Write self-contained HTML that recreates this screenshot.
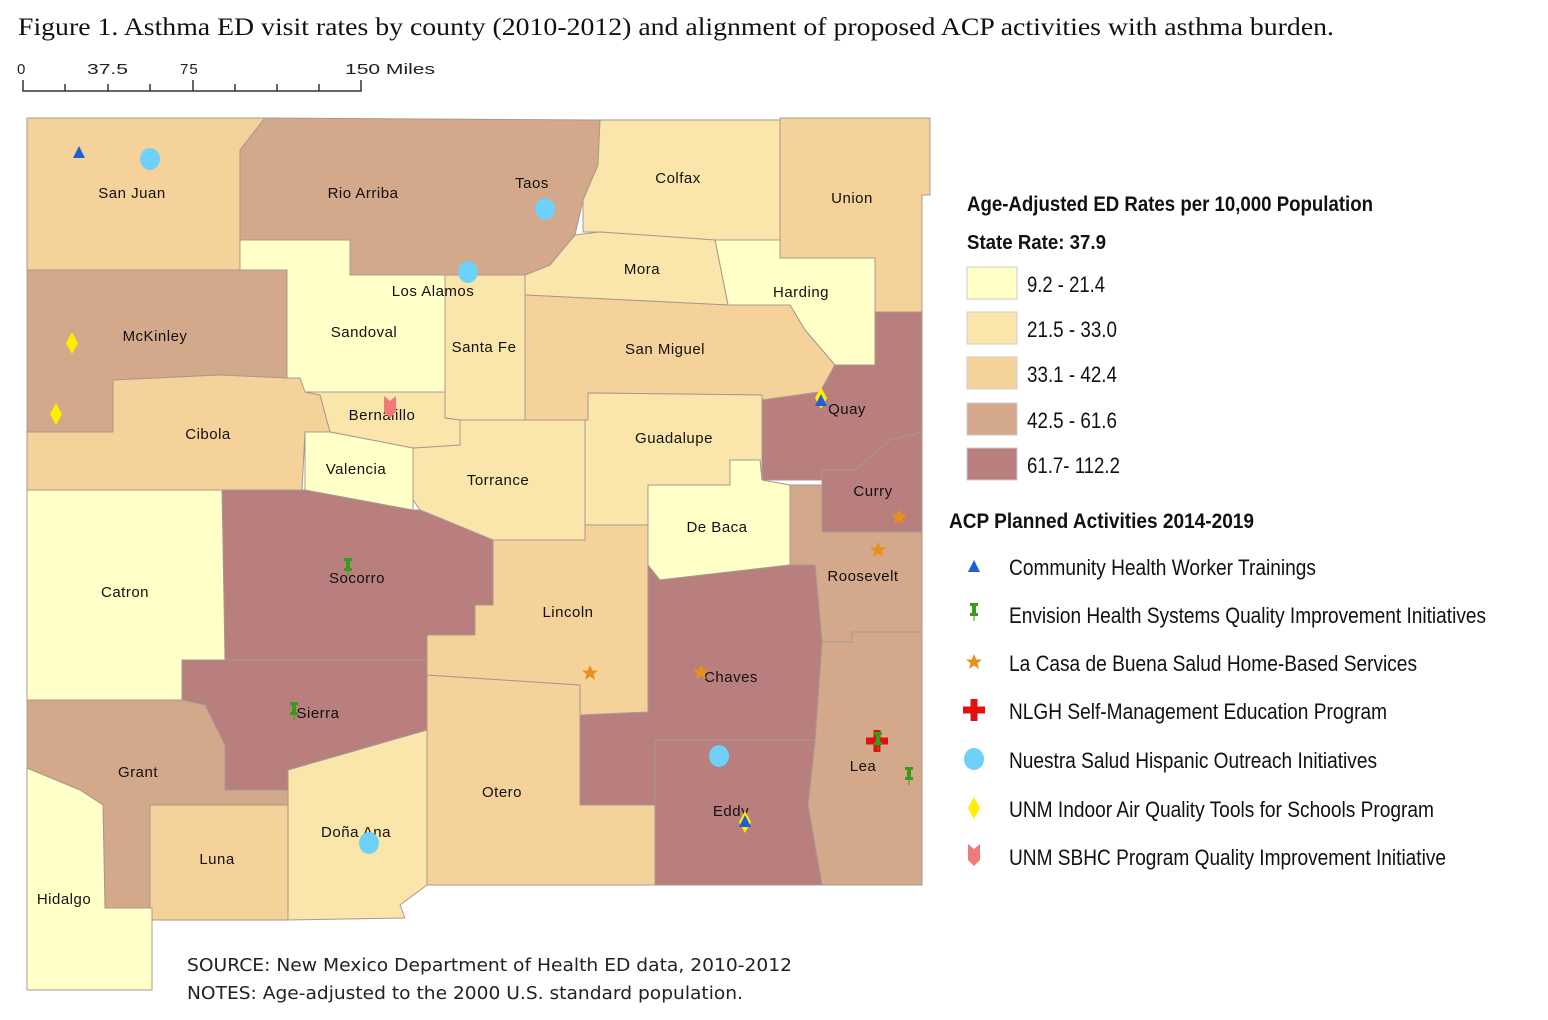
<!DOCTYPE html>
<html><head><meta charset="utf-8"><style>
html,body{margin:0;padding:0;background:#fff;}
svg{display:block}
</style></head><body>
<svg width="1548" height="1020" viewBox="0 0 1548 1020" xmlns="http://www.w3.org/2000/svg">
<defs>
<g id="tri"><polygon points="0,-7 6,5 -6,5" fill="#1f5fd6"/></g>
<g id="pin"><rect x="-4" y="-8" width="8" height="3" fill="#3a9a1a"/><rect x="-2" y="-6" width="4" height="9" fill="#3a9a1a"/><rect x="-4" y="2" width="8" height="3" fill="#3a9a1a"/><line x1="0" y1="5" x2="0" y2="10" stroke="#3a9a1a" stroke-width="1"/></g>
<g id="star"><polygon points="0,-8 2.3,-2.5 8,-2.5 3.5,1.2 5,7 0,3.5 -5,7 -3.5,1.2 -8,-2.5 -2.3,-2.5" fill="#e8901a"/></g>
<g id="cross"><rect x="-3.5" y="-11" width="7" height="22" fill="#e01010"/><rect x="-11" y="-3.5" width="22" height="7" fill="#e01010"/></g>
<g id="circ"><ellipse cx="0" cy="0" rx="10" ry="11" fill="#6fd0f8"/></g>
<g id="dia"><polygon points="0,-11 6,0 0,11 -6,0" fill="#ffee00"/></g>
<g id="flag"><polygon points="-6,-11 0,-6 6,-11 6,5 0,11 -6,5" fill="#f07a7a"/></g>
</defs>
<text x="18" y="35" font-family="Liberation Serif, serif" font-size="25" fill="#111" textLength="1316" lengthAdjust="spacingAndGlyphs">Figure 1. Asthma ED visit rates by county (2010-2012) and alignment of proposed ACP activities with asthma burden.</text>
<g font-family="Liberation Sans, sans-serif" font-size="15" fill="#222">
<text x="17" y="74">0</text><text x="87" y="74" textLength="41" lengthAdjust="spacingAndGlyphs">37.5</text><text x="180" y="74" letter-spacing="1">75</text><text x="345" y="74" textLength="90" lengthAdjust="spacingAndGlyphs">150 Miles</text>
</g>
<g stroke="#333" stroke-width="1.5" fill="none">
<path d="M23,80 V91 H361 V80 M65,84V91 M108,84V91 M150,84V91 M193,80V91 M235,84V91 M277,84V91 M319,84V91"/>
</g>
<g stroke="#a89890" stroke-width="1" stroke-linejoin="round">
<polygon fill="#f5d29a" points="27,118 265,118 240,150 240,270 27,270"/>
<polygon fill="#d4a88a" points="265,118 600,120 598,165 583,200 575,235 550,265 525,275 350,275 350,240 240,240 240,150"/>
<polygon fill="#fae6aa" points="600,120 780,120 780,240 715,240 600,232 583,232 583,200 598,165"/>
<polygon fill="#f5d29a" points="780,118 930,118 930,195 922,195 922,312 875,312 875,258 780,258 780,240"/>
<polygon fill="#ffffc8" points="715,240 780,240 780,258 875,258 875,365 835,365 805,330 790,305 728,305"/>
<polygon fill="#fae6aa" points="575,235 600,232 715,240 728,305 525,295 525,275 550,265"/>
<polygon fill="#f5d29a" points="525,295 728,305 790,305 805,330 835,365 820,392 762,400 762,395 588,393 588,420 525,420"/>
<polygon fill="#b97f7e" points="875,312 922,312 922,432 890,440 855,470 822,470 822,480 762,480 762,400 820,392 835,365 875,365"/>
<polygon fill="#b97f7e" points="922,432 922,532 822,532 822,480 822,470 855,470 890,440"/>
<polygon fill="#fae6aa" points="588,393 762,395 762,480 760,460 730,460 730,485 648,485 648,525 585,525 585,420 588,420"/>
<polygon fill="#ffffc8" points="648,485 730,485 730,460 760,460 762,480 790,485 790,565 660,580 648,580"/>
<polygon fill="#d4a88a" points="790,485 822,485 822,532 922,532 922,632 852,632 852,642 822,642 815,565 790,565"/>
<polygon fill="#d4a88a" points="822,642 852,642 852,632 922,632 922,885 822,885 808,805 815,740"/>
<polygon fill="#b97f7e" points="648,565 660,580 790,565 815,565 822,642 815,740 655,740 655,805 580,805 580,715 648,712"/>
<polygon fill="#b97f7e" points="655,740 815,740 808,805 822,885 655,885"/>
<polygon fill="#f5d29a" points="427,675 580,685 580,805 655,805 655,885 427,885"/>
<polygon fill="#f5d29a" points="493,540 585,540 585,525 648,525 648,712 580,715 580,685 427,675 427,635 475,635 475,605 493,605"/>
<polygon fill="#fae6aa" points="413,448 460,445 460,420 585,420 585,540 493,540 420,510 413,500"/>
<polygon fill="#b97f7e" points="222,490 305,490 413,510 420,510 493,540 493,605 475,605 475,635 427,635 427,660 222,660"/>
<polygon fill="#ffffc8" points="27,490 222,490 225,660 182,665 182,700 27,700"/>
<polygon fill="#b97f7e" points="182,660 427,660 427,730 288,770 288,790 225,790 225,745 205,705 182,700"/>
<polygon fill="#fae6aa" points="288,770 427,730 427,885 400,905 405,918 288,920"/>
<polygon fill="#f5d29a" points="150,805 288,805 288,920 150,920"/>
<polygon fill="#d4a88a" points="27,700 182,700 205,705 225,745 225,790 288,790 288,805 150,805 150,908 105,908 103,805 80,790 27,768"/>
<polygon fill="#ffffc8" points="27,768 80,790 103,805 105,908 152,908 152,990 27,990"/>
<polygon fill="#d4a88a" points="27,270 287,270 287,378 240,378 220,375 113,380 113,432 27,432"/>
<polygon fill="#f5d29a" points="27,432 113,432 113,380 220,375 287,378 300,378 320,395 330,432 305,432 302,490 27,490"/>
<polygon fill="#ffffc8" points="240,240 350,240 350,275 445,275 445,392 305,392 300,378 287,378 287,270 240,270"/>
<polygon fill="#fae6aa" points="445,275 525,275 525,420 460,420 445,418"/>
<polygon fill="#fae6aa" points="305,392 445,392 445,418 460,420 460,445 413,448 330,432 320,395"/>
<polygon fill="#ffffc8" points="305,432 330,432 413,448 413,510 305,490"/>
</g>
<g font-family="Liberation Sans, sans-serif" font-size="15" fill="#111" text-anchor="middle" letter-spacing="0.5">
<text x="132" y="198">San Juan</text><text x="363" y="198">Rio Arriba</text><text x="532" y="188">Taos</text>
<text x="678" y="183">Colfax</text><text x="852" y="203">Union</text><text x="642" y="274">Mora</text>
<text x="801" y="297">Harding</text><text x="433" y="296">Los Alamos</text><text x="155" y="341">McKinley</text>
<text x="364" y="337">Sandoval</text><text x="484" y="352">Santa Fe</text><text x="665" y="354">San Miguel</text>
<text x="847" y="414">Quay</text><text x="382" y="420">Bernalillo</text><text x="208" y="439">Cibola</text>
<text x="674" y="443">Guadalupe</text><text x="356" y="474">Valencia</text><text x="498" y="485">Torrance</text>
<text x="873" y="496">Curry</text><text x="717" y="532">De Baca</text><text x="357" y="583">Socorro</text>
<text x="863" y="581">Roosevelt</text><text x="125" y="597">Catron</text><text x="568" y="617">Lincoln</text>
<text x="731" y="682">Chaves</text><text x="318" y="718">Sierra</text><text x="863" y="771">Lea</text>
<text x="138" y="777">Grant</text><text x="502" y="797">Otero</text><text x="731" y="816">Eddy</text>
<text x="356" y="837">Doña Ana</text><text x="217" y="864">Luna</text><text x="64" y="904">Hidalgo</text>
</g>
<use href="#tri" x="79" y="153"/><use href="#circ" x="150" y="159"/>
<use href="#circ" x="545" y="209"/><use href="#circ" x="468" y="272"/>
<use href="#dia" x="72" y="343"/><use href="#dia" x="56" y="414"/>
<use href="#flag" x="390" y="407"/>
<use href="#dia" x="821" y="398"/><use href="#tri" x="821" y="401"/>
<use href="#star" x="899" y="517"/><use href="#star" x="878" y="550"/>
<use href="#pin" x="348" y="566"/><use href="#star" x="590" y="673"/><use href="#star" x="701" y="672"/>
<use href="#pin" x="294" y="710"/><use href="#cross" x="877" y="741"/><use href="#pin" x="878" y="740"/>
<use href="#pin" x="909" y="775"/><use href="#circ" x="719" y="756"/>
<use href="#dia" x="745" y="822"/><use href="#tri" x="745" y="822"/>
<use href="#circ" x="369" y="843"/>
<g font-family="Liberation Sans, sans-serif" fill="#111">
<text x="967" y="211" font-size="21" font-weight="bold" textLength="406" lengthAdjust="spacingAndGlyphs">Age-Adjusted ED Rates per 10,000 Population</text>
<text x="967" y="249" font-size="20" font-weight="bold" textLength="139" lengthAdjust="spacingAndGlyphs">State Rate: 37.9</text>
<g font-size="22">
<rect x="967" y="267" width="50" height="32" fill="#ffffc8" stroke="#ccc"/><text x="1027" y="292" textLength="78" lengthAdjust="spacingAndGlyphs">9.2 - 21.4</text>
<rect x="967" y="312" width="50" height="32" fill="#fae6aa" stroke="#ccc"/><text x="1027" y="337" textLength="90" lengthAdjust="spacingAndGlyphs">21.5 - 33.0</text>
<rect x="967" y="357" width="50" height="32" fill="#f5d29a" stroke="#ccc"/><text x="1027" y="382" textLength="90" lengthAdjust="spacingAndGlyphs">33.1 - 42.4</text>
<rect x="967" y="403" width="50" height="32" fill="#d4a88a" stroke="#ccc"/><text x="1027" y="428" textLength="90" lengthAdjust="spacingAndGlyphs">42.5 - 61.6</text>
<rect x="967" y="448" width="50" height="32" fill="#b97f7e" stroke="#ccc"/><text x="1027" y="473" textLength="93" lengthAdjust="spacingAndGlyphs">61.7- 112.2</text>
</g>
<text x="949" y="528" font-size="21" font-weight="bold" textLength="305" lengthAdjust="spacingAndGlyphs">ACP Planned Activities 2014-2019</text>
<g font-size="22">
<text x="1009" y="575" textLength="307" lengthAdjust="spacingAndGlyphs">Community Health Worker Trainings</text>
<text x="1009" y="623" textLength="477" lengthAdjust="spacingAndGlyphs">Envision Health Systems Quality Improvement Initiatives</text>
<text x="1009" y="671" textLength="408" lengthAdjust="spacingAndGlyphs">La Casa de Buena Salud Home-Based Services</text>
<text x="1009" y="719" textLength="378" lengthAdjust="spacingAndGlyphs">NLGH Self-Management Education Program</text>
<text x="1009" y="768" textLength="368" lengthAdjust="spacingAndGlyphs">Nuestra Salud Hispanic Outreach Initiatives</text>
<text x="1009" y="817" textLength="425" lengthAdjust="spacingAndGlyphs">UNM Indoor Air Quality Tools for Schools Program</text>
<text x="1009" y="865" textLength="437" lengthAdjust="spacingAndGlyphs">UNM SBHC Program Quality Improvement Initiative</text>
</g>
</g>
<use href="#tri" x="974" y="567"/><use href="#pin" x="974" y="611"/><use href="#star" x="974" y="662"/>
<use href="#cross" x="974" y="710"/><use href="#circ" x="974" y="759"/><use href="#dia" x="974" y="808"/><use href="#flag" x="974" y="855"/>
<g font-family="DejaVu Sans, Liberation Sans, sans-serif" font-size="18" fill="#222">
<text x="187" y="971" textLength="605" lengthAdjust="spacingAndGlyphs">SOURCE: New Mexico Department of Health ED data, 2010-2012</text>
<text x="187" y="999" textLength="556" lengthAdjust="spacingAndGlyphs">NOTES: Age-adjusted to the 2000 U.S. standard population.</text>
</g>
</svg>
</body></html>
